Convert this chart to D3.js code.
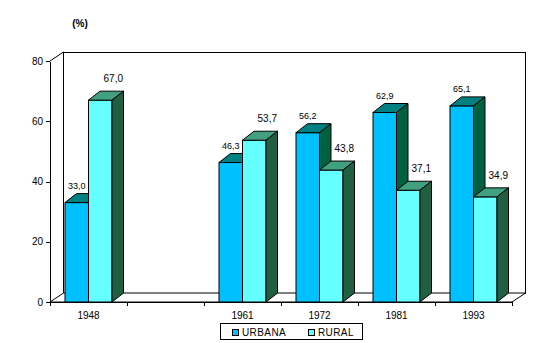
<!DOCTYPE html>
<html>
<head>
<meta charset="utf-8">
<script src="https://cdn.jsdelivr.net/npm/d3@7"></script>
<style>
  html, body { margin: 0; padding: 0; background: #fff; }
  svg { display: block; font-family: "Liberation Sans", Arial, sans-serif; }
</style>
</head>
<body>
<svg id="chart" width="555" height="343"></svg>
<script>
// Population share by area (%), census years; the blank slot leaves a gap on the axis
const categories = ["1948", "", "1961", "1972", "1981", "1993"];
const urbana = [33.0, null, 46.3, 56.2, 62.9, 65.1];
const rural  = [67.0, null, 53.7, 43.8, 37.1, 34.9];
const yTicks = [0, 20, 40, 60, 80];
const seriesNames = ["URBANA", "RURAL"];

const colors = {
  URBANA: { front: "#00C0FF", top: "#008080", side: "#006040" },
  RURAL:  { front: "#66FFFF", top: "#40A080", side: "#206040" }
};

const svg = d3.select("#chart");

// plot geometry
const plotL = 50, plotR = 512, plotB = 302, plotT = 61;
const wallDx = 13.5, wallDy = -9;   // oblique depth of the walls
const barDx = 11.5, barDy = -9;     // oblique depth of each column

const x = d3.scaleBand().domain(categories).range([plotL, plotR]).padding(0);
const inner = d3.scaleBand().domain(seriesNames).range([15, x.bandwidth() - 15]).padding(0);
const y = d3.scaleLinear().domain([0, 80]).range([plotB, plotT]);

const line = (x1, y1, x2, y2) => svg.append("line")
  .attr("x1", x1).attr("y1", y1).attr("x2", x2).attr("y2", y2)
  .attr("stroke", "#000").attr("stroke-width", 1).attr("shape-rendering", "crispEdges");

// back wall
svg.append("rect")
  .attr("x", plotL + wallDx).attr("y", plotT + wallDy)
  .attr("width", plotR - plotL).attr("height", plotB - plotT)
  .attr("fill", "#fff").attr("stroke", "#000").attr("stroke-width", 1)
  .attr("shape-rendering", "crispEdges");

// side wall and floor edges
svg.append("path")
  .attr("d", `M${plotL},${y(80)} L${plotL + wallDx},${y(80) + wallDy}`)
  .attr("stroke", "#000").attr("fill", "none");
svg.append("path")
  .attr("d", `M${plotL},${plotB} L${plotL + wallDx},${plotB + wallDy} L${plotR + wallDx},${plotB + wallDy} L${plotR},${plotB} Z`)
  .attr("fill", "#fff").attr("stroke", "#000").attr("stroke-width", 1);

// y axis
const yAxis = svg.append("g")
  .attr("transform", `translate(${plotL},0)`)
  .call(d3.axisLeft(y).tickValues(yTicks).tickSize(4).tickSizeOuter(0).tickPadding(3));
yAxis.selectAll("path, line").attr("stroke", "#000").attr("shape-rendering", "crispEdges");
yAxis.selectAll("text").attr("font-size", 10).attr("fill", "#000")
  .attr("font-family", "Liberation Sans, Arial, sans-serif");

// x axis: front edge, boundary ticks, centred labels
line(plotL, plotB, plotR, plotB);
const bounds = categories.map(c => x(c)).concat([plotR]);
bounds.forEach(b => line(b, plotB, b, plotB + 4));
const xAxis = svg.append("g")
  .attr("transform", `translate(0,${plotB})`)
  .call(d3.axisBottom(x).tickSize(0).tickPadding(10));
xAxis.select(".domain").remove();
xAxis.selectAll("text").attr("font-size", 10).attr("fill", "#000")
  .attr("font-family", "Liberation Sans, Arial, sans-serif");

// 3D columns
const bars = [];
categories.forEach((c, i) => {
  [["URBANA", urbana[i]], ["RURAL", rural[i]]].forEach(([s, v]) => {
    if (v == null) return;
    bars.push({ cat: c, series: s, value: v });
  });
});

const g = svg.append("g").attr("stroke", "#000").attr("stroke-width", 1).attr("stroke-linejoin", "miter");
bars.forEach(d => {
  const x0 = x(d.cat) + inner(d.series);
  const x1 = x0 + inner.bandwidth();
  const y0 = y(d.value);
  const col = colors[d.series];
  // front face
  g.append("rect").attr("x", x0).attr("y", y0).attr("width", x1 - x0).attr("height", plotB - y0)
    .attr("fill", col.front);
  // top face
  g.append("path")
    .attr("d", `M${x0},${y0} L${x0 + barDx},${y0 + barDy} L${x1 + barDx},${y0 + barDy} L${x1},${y0} Z`)
    .attr("fill", col.top);
  // side face
  g.append("path")
    .attr("d", `M${x1},${y0} L${x1 + barDx},${y0 + barDy} L${x1 + barDx},${plotB + barDy} L${x1},${plotB} Z`)
    .attr("fill", col.side);
});

// value labels
const fmt = v => v.toFixed(1).replace(".", ",");
bars.forEach(d => {
  const cx = x(d.cat) + inner(d.series) + inner.bandwidth() / 2;
  const isU = d.series === "URBANA";
  svg.append("text")
    .attr("x", cx + (isU ? 0 : 13))
    .attr("y", y(d.value) - (isU ? 14 : 18))
    .attr("text-anchor", "middle")
    .attr("font-size", isU ? 9 : 10)
    .attr("fill", "#000")
    .text(fmt(d.value));
});

// unit label
svg.append("text").attr("x", 80).attr("y", 27).attr("text-anchor", "middle")
  .attr("font-size", 10).attr("font-weight", "bold").text("(%)");

// legend
const legend = svg.append("g").attr("transform", "translate(220,323)");
legend.append("rect").attr("width", 142).attr("height", 16)
  .attr("fill", "#fff").attr("stroke", "#000").attr("shape-rendering", "crispEdges");
const legendX = [12, 88];
seriesNames.forEach((s, i) => {
  legend.append("rect").attr("x", legendX[i]).attr("y", 6).attr("width", 6).attr("height", 6)
    .attr("fill", colors[s].front).attr("stroke", "#000").attr("shape-rendering", "crispEdges");
  legend.append("text").attr("x", legendX[i] + 10).attr("y", 12.5)
    .attr("font-size", 10).attr("letter-spacing", 0.4).text(s);
});
</script>
</body>
</html>
